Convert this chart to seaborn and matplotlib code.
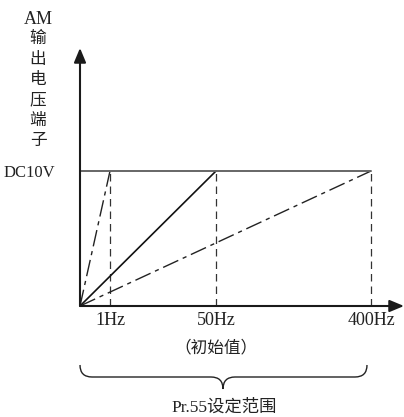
import numpy as np
import pandas as pd
import matplotlib
matplotlib.use('Agg')
import matplotlib.pyplot as plt
import seaborn as sns
from matplotlib.path import Path
from matplotlib.patches import PathPatch

# schematic frequency positions along the horizontal axis (not to scale)
freq_labels = ['1Hz', '50Hz', '400Hz']
freq_pos = [30, 136, 291]
# output voltage levels
v_max = 10
v_labels = ['DC10V']
line_styles = ['dashdot', 'solid', 'dashdot']

sns.set_style('white')
plt.rcParams['font.family'] = ['Liberation Serif', 'Noto Sans CJK SC']

W, H = 404, 417
fig = plt.figure(figsize=(W / 100, H / 100), dpi=100)

# main axes: origin at pixel (80, 306)
ax = fig.add_axes([80 / W, 111 / H, 324 / W, 258 / H])
ax.set_xlim(0, 324)
ax.set_ylim(0, v_max * 258 / 135)
for s in ax.spines.values():
    s.set_visible(False)

# output lines from the origin to each frequency at full scale
for pos, style in zip(freq_pos, line_styles):
    df = pd.DataFrame({'f': [0, pos], 'v': [0, v_max]})
    if style == 'solid':
        sns.lineplot(data=df, x='f', y='v', ax=ax, color='#111111', lw=1.2)
    else:
        sns.lineplot(data=df, x='f', y='v', ax=ax, color='#222222', lw=1.0,
                     dashes=False).lines[-1].set_dashes([12, 3.5, 3, 3.5])
    # guide line down to the axis
    ax.plot([pos, pos], [0, v_max], color='#333333', lw=0.9, dashes=(6, 4))

# full-scale level line
ax.plot([0, max(freq_pos)], [v_max, v_max], color='#666666', lw=1.4)

# axes with arrow heads
arrow = dict(arrowstyle='-|>,head_length=0.72,head_width=0.3', mutation_scale=12,
             lw=1.5, color='#1a1a1a', shrinkA=0, shrinkB=0)
ax.annotate('', xy=(0, 1), xytext=(0, 0), xycoords='axes fraction', arrowprops=arrow)
ax.annotate('', xy=(1, 0), xytext=(0, 0), xycoords='axes fraction', arrowprops=arrow)

ax.set_xticks(freq_pos, labels=freq_labels)
ax.set_yticks([v_max], labels=v_labels)
ax.tick_params(axis='x', length=0, pad=4, labelsize=13, labelcolor='#222222')
ax.tick_params(axis='y', length=0, pad=18, labelsize=12, labelcolor='#222222')
ax.set_xlabel('')
ax.set_ylabel('')

# overlay in pixel units for the annotations
ov = fig.add_axes([0, 0, 1, 1])
ov.set_xlim(0, W)
ov.set_ylim(H, 0)
ov.axis('off')
ov.patch.set_alpha(0)

ylab = ['AM', '输', '出', '电', '压', '端', '子']
for i, t in enumerate(ylab):
    ov.text(38, 19 + i * 20.3, t, ha='center', va='center',
            fontsize=13 if i == 0 else 12, color='#222222')

ov.text(216, 348, '（初始值）', ha='center', va='center', fontsize=12, color='#222222')
ov.text(224, 408, 'Pr.55设定范围', ha='center', va='center', fontsize=12.5, color='#222222')

# curly brace under the axis
verts = [(80, 365), (80, 377), (92, 377),
         (211, 377), (223, 377), (223, 389),
         (223, 377), (235, 377),
         (355, 377), (367, 377), (367, 365)]
codes = [Path.MOVETO, Path.CURVE3, Path.CURVE3,
         Path.LINETO, Path.CURVE3, Path.CURVE3,
         Path.CURVE3, Path.CURVE3,
         Path.LINETO, Path.CURVE3, Path.CURVE3]
ov.add_patch(PathPatch(Path(verts, codes), fill=False, lw=1.0, color='#222222'))

fig.savefig('out.png', dpi=100)
